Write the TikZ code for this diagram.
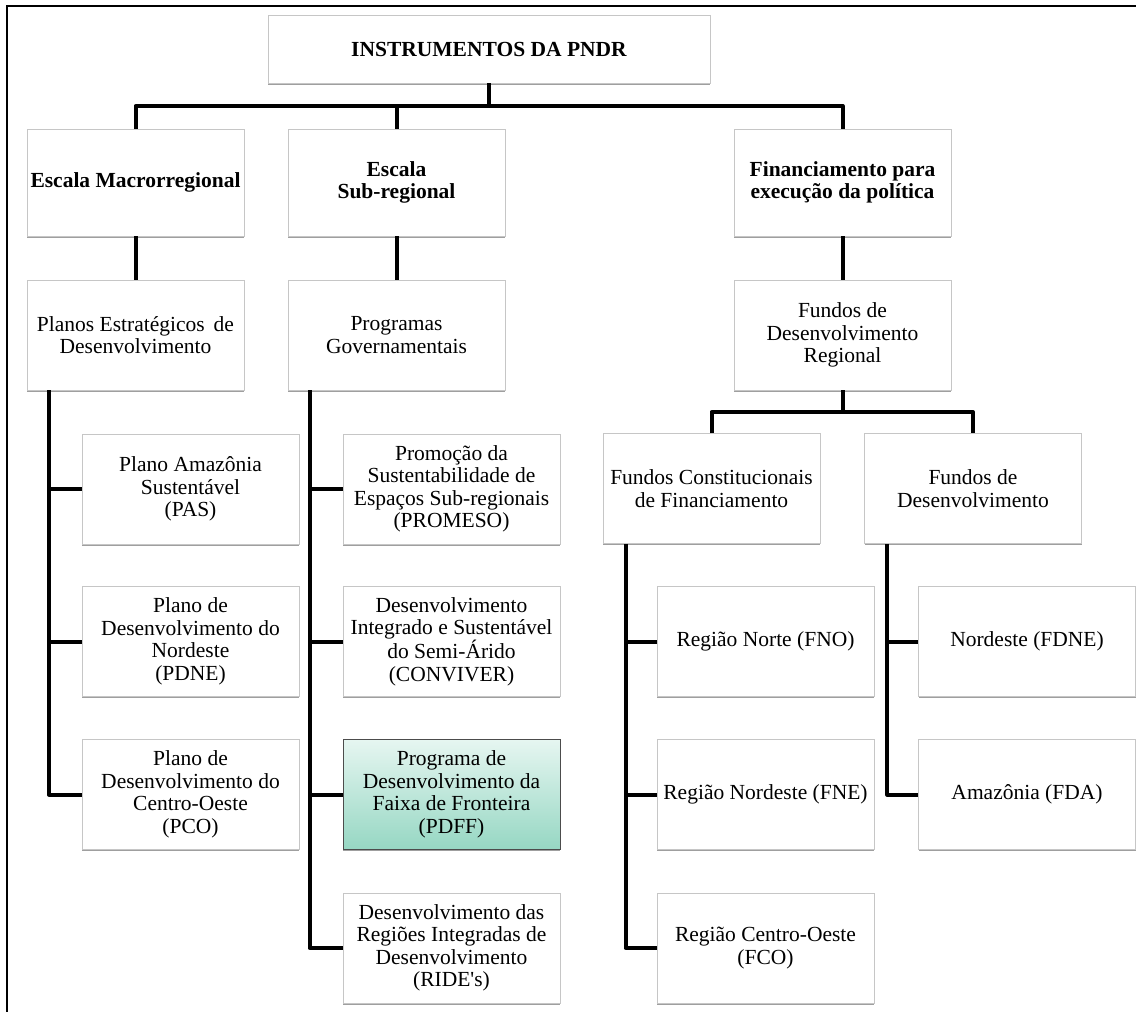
\documentclass[tikz,border=0pt]{standalone}
\usepackage{fontspec}
\setmainfont{Liberation Serif}
\usetikzlibrary{shadows}
\definecolor{pdfftop}{RGB}{230,246,241}
\definecolor{pdffbot}{RGB}{150,215,195}

\begin{document}
\begin{tikzpicture}[x=1pt,y=-1pt,
  box/.style={draw=gray!45, line width=0.7pt, fill=white, align=center, inner sep=1pt,
    minimum width=217pt, minimum height=110pt,
    font=\fontsize{21.5}{22.5}\selectfont,
    drop shadow={shadow xshift=0pt, shadow yshift=-1.8pt, fill=gray!75, opacity=1}},
  head/.style={box, minimum height=107pt, font=\bfseries\fontsize{21.5}{22.5}\selectfont},
  conn/.style={line width=4pt, line join=round}]
  \useasboundingbox (0,0) rectangle (1136,1012);

  % Draw frame
  \draw[line width=1.8pt] (7,1012) -- (7,6) -- (1136,6);

  % Draw top level
  \node[head, minimum width=442pt, minimum height=68pt] (top) at (489,49) {INSTRUMENTOS DA PNDR};
  \node[head] (escmacro) at (135.5,182.5) {Escala Macrorregional};
  \node[head] (escsub) at (396.5,182.5) {Escala\\Sub-regional};
  \node[head] (financ) at (842.5,182.5) {Financiamento para\\execução da política};

  % Draw second level
  \node[box] (planos) at (135.5,335) {Planos Estratégicos\, de\\Desenvolvimento};
  \node[box] (programas) at (396.5,335) {Programas\\Governamentais};
  \node[box] (fundosreg) at (842.5,335) {Fundos de\\Desenvolvimento\\Regional};
  \node[box] (fconst) at (711.5,488.5) {Fundos Constitucionais\\de Financiamento};
  \node[box] (fdes) at (973,488.5) {Fundos de\\Desenvolvimento};

  % Draw plans
  \node[box] (pas) at (190.5,489) {Plano Amazônia\\Sustentável\\(PAS)};
  \node[box] (pdne) at (190.5,641.5) {Plano de\\Desenvolvimento do\\Nordeste\\(PDNE)};
  \node[box] (pco) at (190.5,794.5) {Plano de\\Desenvolvimento do\\Centro-Oeste\\(PCO)};

  % Draw programs
  \node[box] (promeso) at (451.5,489) {Promoção da\\Sustentabilidade de\\Espaços Sub-regionais\\(PROMESO)};
  \node[box] (conviver) at (451.5,641.5) {Desenvolvimento\\Integrado e Sustentável\\do Semi-Árido\\(CONVIVER)};
  \node[box, draw=gray!60!black, top color=pdfftop, bottom color=pdffbot] (pdff) at (451.5,794.5) {Programa de\\Desenvolvimento da\\Faixa de Fronteira\\(PDFF)};
  \node[box] (ride) at (451.5,948) {Desenvolvimento das\\Regiões Integradas de\\Desenvolvimento\\(RIDE\textquotesingle s)};

  % Draw funds
  \node[box] (fno) at (765.5,641.5) {Região Norte (FNO)};
  \node[box] (fne) at (765.5,794.5) {Região Nordeste (FNE)};
  \node[box] (fco) at (765.5,948) {Região Centro-Oeste\\(FCO)};
  \node[box] (fdne) at (1027,641.5) {Nordeste (FDNE)};
  \node[box] (fda) at (1027,794.5) {Amazônia (FDA)};

  % Draw connectors
  \coordinate (bar) at (489,106);
  \draw[conn] (top) -- (bar);
  \draw[conn] (escmacro) |- (bar) -| (financ);
  \draw[conn] (escsub) -- (escsub |- bar);
  \draw[conn] (escmacro) -- (planos);
  \draw[conn] (escsub) -- (programas);
  \draw[conn] (financ) -- (fundosreg);

  \coordinate (bar2) at (842.5,412);
  \draw[conn] (fundosreg) -- (bar2);
  \draw[conn] (fconst) |- (bar2) -| (fdes);

  % Draw spines
  \coordinate (s1) at ([xshift=22pt]planos.south west);
  \draw[conn] (s1) |- (pco);
  \draw[conn] (s1 |- pas) -- (pas);
  \draw[conn] (s1 |- pdne) -- (pdne);

  \coordinate (s2) at ([xshift=22pt]programas.south west);
  \draw[conn] (s2) |- (ride);
  \draw[conn] (s2 |- promeso) -- (promeso);
  \draw[conn] (s2 |- conviver) -- (conviver);
  \draw[conn] (s2 |- pdff) -- (pdff);

  \coordinate (s3) at ([xshift=23pt]fconst.south west);
  \draw[conn] (s3) |- (fco);
  \draw[conn] (s3 |- fno) -- (fno);
  \draw[conn] (s3 |- fne) -- (fne);

  \coordinate (s4) at ([xshift=23pt]fdes.south west);
  \draw[conn] (s4) |- (fda);
  \draw[conn] (s4 |- fdne) -- (fdne);
\end{tikzpicture}
\end{document}
